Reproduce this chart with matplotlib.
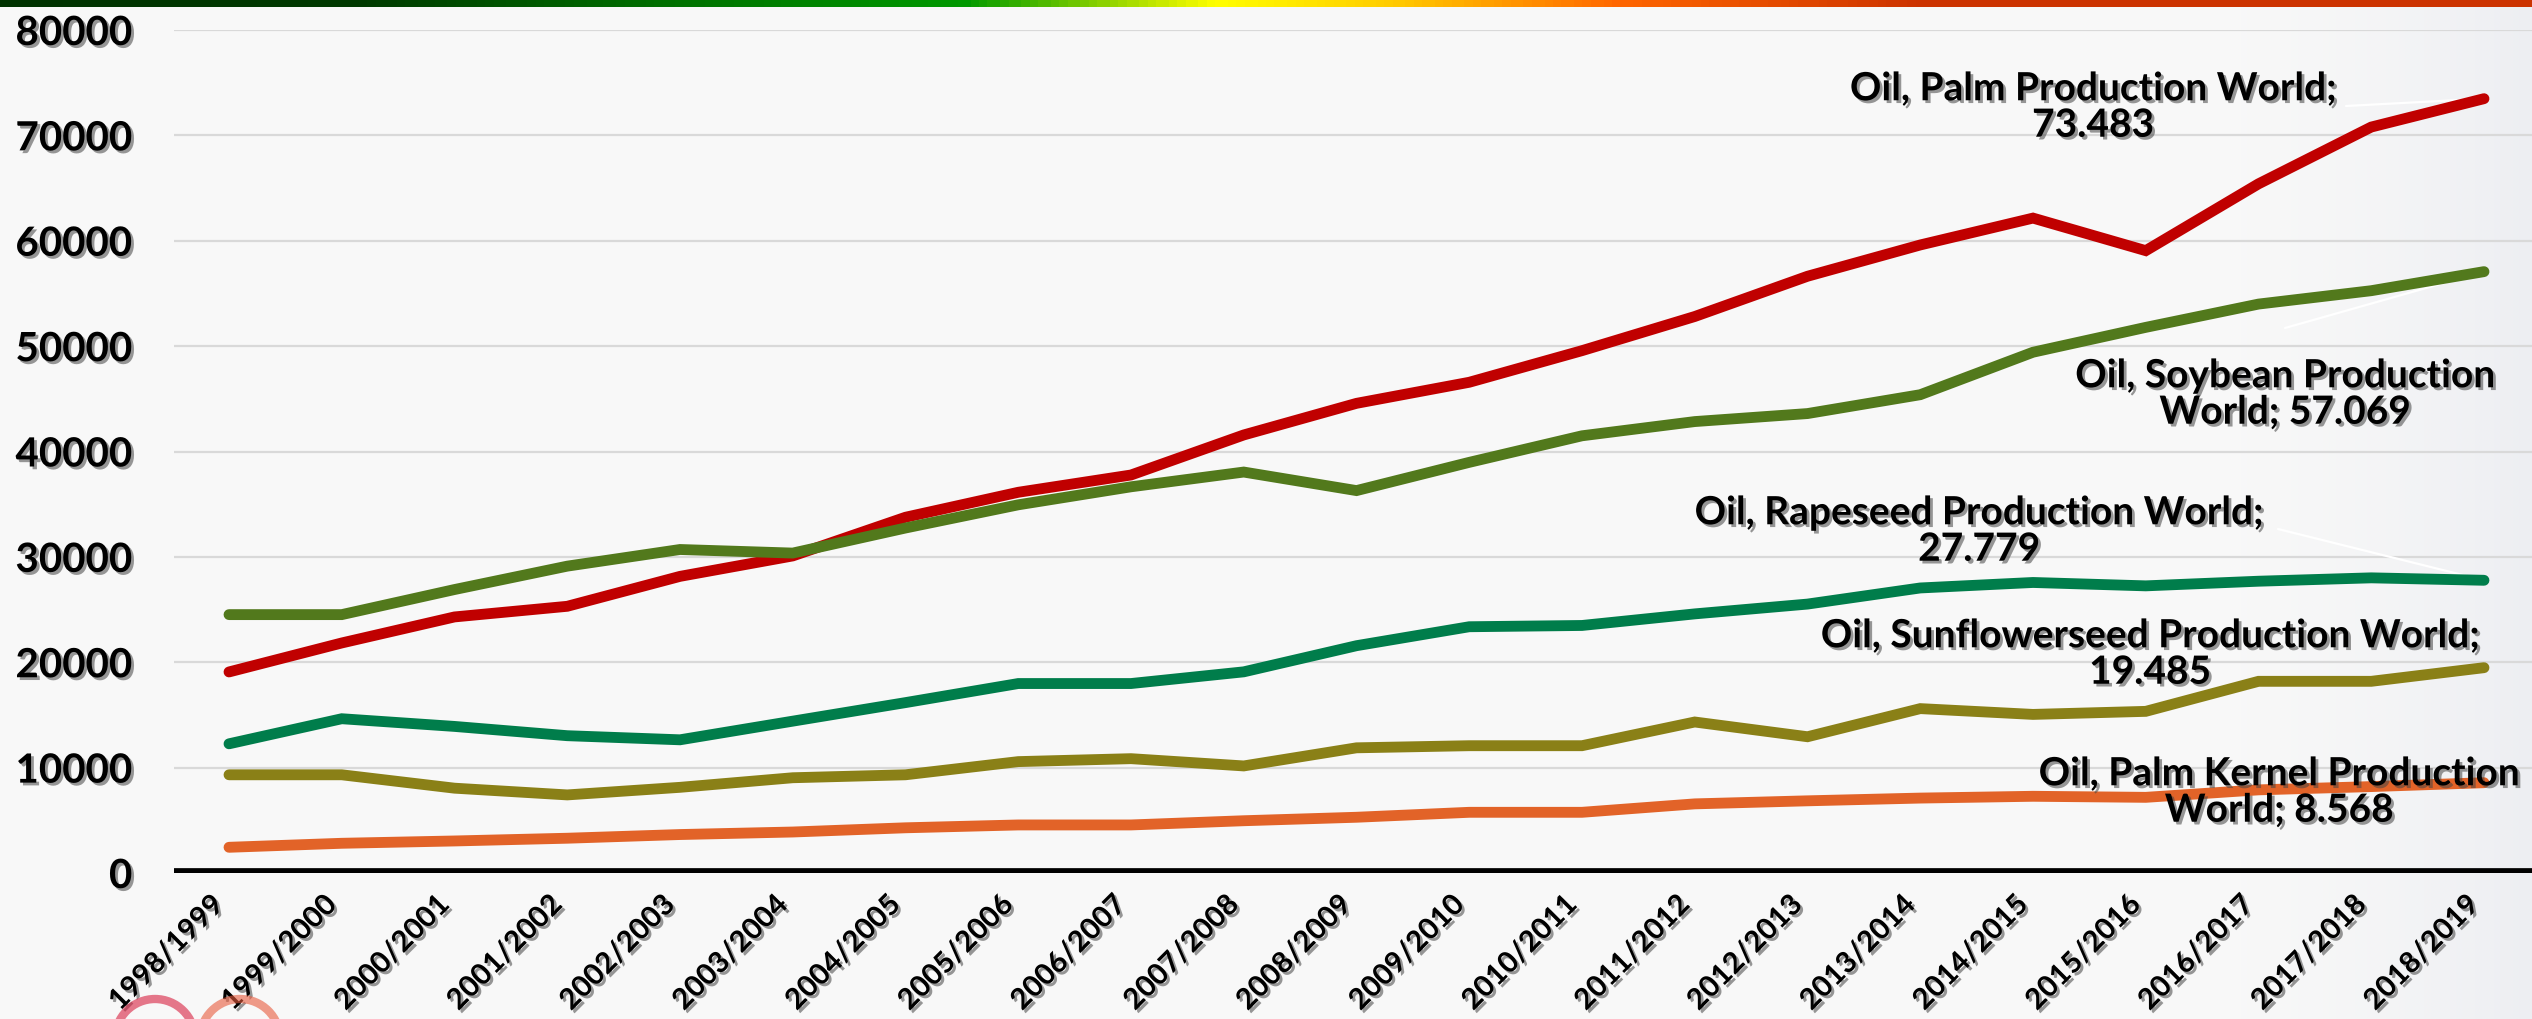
import numpy as np
import matplotlib
matplotlib.use("Agg")
import matplotlib.pyplot as plt
from matplotlib import patheffects
from matplotlib.colors import LinearSegmentedColormap
from matplotlib.patches import Ellipse

# --- data (1000 t) ---
seasons = ["1998/1999", "1999/2000", "2000/2001", "2001/2002", "2002/2003", "2003/2004",
           "2004/2005", "2005/2006", "2006/2007", "2007/2008", "2008/2009", "2009/2010",
           "2010/2011", "2011/2012", "2012/2013", "2013/2014", "2014/2015", "2015/2016",
           "2016/2017", "2017/2018", "2018/2019"]
palm = [19080, 21830, 24300, 25310, 28150, 30090, 33760, 36130, 37770, 41570, 44570,
        46570, 49570, 52810, 56630, 59600, 62150, 59060, 65400, 70790, 73483]
soybean = [24520, 24520, 26900, 29120, 30700, 30360, 32740, 34940, 36650, 38050, 36290,
           38970, 41490, 42840, 43600, 45390, 49420, 51780, 53990, 55260, 57069]
rapeseed = [12260, 14640, 13910, 13030, 12640, 14410, 16170, 17980, 17980, 19090, 21570,
            23370, 23490, 24590, 25520, 27050, 27570, 27250, 27690, 28010, 27779]
sunflower = [9320, 9320, 8050, 7410, 8130, 9040, 9320, 10570, 10850, 10160, 11880,
             12080, 12080, 14330, 12930, 15600, 15050, 15340, 18190, 18190, 19485]
palm_kernel = [2440, 2820, 3040, 3300, 3650, 3890, 4290, 4560, 4560, 4960, 5290,
               5760, 5760, 6560, 6850, 7110, 7280, 7180, 7890, 8200, 8568]

series = [
    ("Oil, Palm Production World;\n73.483", palm, "#c00000"),
    ("Oil, Soybean Production\nWorld; 57.069", soybean, "#52791c"),
    ("Oil, Rapeseed Production World;\n27.779", rapeseed, "#007d4b"),
    ("Oil, Sunflowerseed Production World;\n19.485", sunflower, "#8a8017"),
    ("Oil, Palm Kernel Production\nWorld; 8.568", palm_kernel, "#e26328"),
]
# label centres in pixels (x, y from top) and start of white leader line
label_pos = [(2093, 107), (2285, 394), (1979, 531), (2150, 654), (2279, 792)]
leader_from = [(2346, 106), (2285, 328), (2278, 529), None, None]

W, H = 2532, 1019
plt.rcParams["font.family"] = ["Lato", "DejaVu Sans"]
fig = plt.figure(figsize=(W / 100, H / 100), dpi=100)

# background
bg = fig.add_axes([0, 0, 1, 1], zorder=-10)
xx = np.linspace(0, 1, 400)
base = np.ones((1, 400, 3)) * 0.973
shade = (np.clip((xx - 0.88) / 0.12, 0, 1) ** 1.5)[None, :, None]
grey = np.array([0.93, 0.935, 0.95])[None, None, :]
img = base * (1 - shade) + grey * shade
bg.imshow(img, aspect="auto", extent=[0, 1, 0, 1])
bg.axis("off")

# top colour bar
top = fig.add_axes([0, 1 - 7 / H, 1, 7 / H], zorder=5)
cmap = LinearSegmentedColormap.from_list("band", [
    (0.0, "#003300"), (0.14, "#003a00"), (0.26, "#007000"), (0.38, "#009900"),
    (0.44, "#99d600"), (0.48, "#ffff00"), (0.55, "#ffcc00"), (0.64, "#ff6600"),
    (0.76, "#cc3300"), (1.0, "#cc3300")])
top.imshow(np.linspace(0, 1, 600)[None, :], aspect="auto", cmap=cmap, extent=[0, 1, 0, 1])
top.axis("off")

# small logo remnants bottom-left
for cx, col in [(155, "#d82040"), (240, "#e85a3c")]:
    fig.patches.append(Ellipse((cx / W, -20 / H), 80 / W, 80 / H, transform=fig.transFigure,
                               fill=False, edgecolor=col, lw=6, alpha=0.6))

left, right = 174, W
ax = fig.add_axes([left / W, 1 - 873 / H, (right - left) / W, (873 - 30) / H])
ax.patch.set_alpha(0)
x = np.arange(len(seasons))
ax.set_xlim((left - 229) / 112.75, (right - 229) / 112.75)
ax.set_ylim(0, 80000)
ax.set_yticks(np.arange(0, 80001, 10000))
ax.yaxis.grid(True, color="#d9d9d9", lw=1.6)
ax.set_axisbelow(True)
for s in ax.spines.values():
    s.set_visible(False)
ax.axhline(0, color="black", lw=7, zorder=3)

shadow = [patheffects.withSimplePatchShadow(offset=(2, -2), shadow_rgbFace="#444444", alpha=0.55)]

for (label, vals, col) in series:
    ax.plot(x, vals, color=col, lw=7.8, solid_capstyle="round", solid_joinstyle="miter", zorder=4)

for (label, vals, col), (px, py), lf in zip(series, label_pos, leader_from):
    fig.text(px / W, 1 - py / H, label, ha="center", va="center", fontsize=28,
             fontweight="bold", linespacing=1.05, multialignment="center",
             path_effects=shadow, zorder=6)
    if lf is not None:
        ax.annotate("", xy=(x[-1], vals[-1]), xytext=(lf[0] / W, 1 - lf[1] / H),
                    textcoords="figure fraction",
                    arrowprops=dict(arrowstyle="-", color="white", lw=1.6, shrinkA=0, shrinkB=0))

ax.set_xticks(x)
ax.set_xticklabels(seasons, rotation=45, ha="right", fontsize=21, fontweight="bold")
ax.tick_params(axis="x", length=0, pad=13)
ax.tick_params(axis="y", length=0, pad=30, labelsize=29)
for t in ax.get_yticklabels():
    t.set_fontweight("bold")
for t in ax.get_xticklabels() + ax.get_yticklabels():
    t.set_path_effects(shadow)

fig.savefig("out.png", dpi=100)
